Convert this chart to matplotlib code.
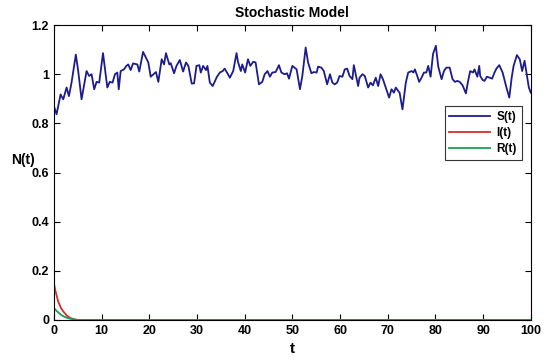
import matplotlib
matplotlib.use("Agg")
import matplotlib.pyplot as plt
from matplotlib.ticker import FuncFormatter

plt.rcParams['font.family'] = ['Liberation Sans', 'DejaVu Sans']
plt.rcParams['font.weight'] = 'bold'

# S(t) (t, value)
t_s = [0, 0.56, 1.4, 1.96, 2.66, 3.15, 3.7, 4.6, 5.1, 5.8, 6.85, 7.4, 7.9, 8.45, 8.95,
       9.5, 10.3, 11.2, 11.7, 12.3, 12.8, 13.3, 13.6, 14.0, 14.7, 15.2, 15.6, 16.1,
       16.6, 17.5, 17.9, 18.7, 19.8, 20.3, 21.4, 21.9, 22.6, 23.1, 23.5, 24.2, 24.5,
       25.2, 25.7, 26.4, 27.1, 27.7, 28.2, 28.9, 29.4, 29.9, 30.5, 30.8, 31.3, 31.9,
       32.2, 32.7, 33.3, 33.8, 34.2, 34.8, 35.4, 35.8, 36.3, 36.9, 37.6, 38.3, 38.6,
       39.2, 39.5, 40.1, 40.7, 41.2, 41.8, 42.3, 43.0, 43.7, 44.2, 44.8, 45.3, 45.8,
       46.5, 47.2, 47.7, 48.4, 48.9, 49.3, 50.0, 50.9, 51.6, 52.1, 52.8, 53.3, 54.0,
       54.5, 55.1, 55.4, 56.1, 56.6, 57.3, 57.9, 58.4, 58.9, 59.4, 59.9, 60.5, 61.0,
       61.5, 62.0, 62.6, 62.9, 63.8, 64.1, 64.7, 65.2, 65.9, 66.4, 66.9, 67.5, 68.0,
       68.5, 69.0, 69.7, 70.3, 70.8, 71.3, 71.7, 72.2, 72.5, 73.1, 73.8, 74.3, 75.0,
       75.4, 75.7, 76.2, 76.6, 77.1, 77.6, 78.1, 78.5, 79.0, 79.5, 80.1, 80.6, 81.3,
       81.8, 82.3, 83.0, 83.6, 84.1, 84.6, 85.1, 85.7, 86.4, 86.8, 87.3, 87.9, 88.2,
       88.8, 89.2, 89.4, 89.9, 90.3, 90.8, 91.4, 91.9, 92.4, 92.8, 93.4, 94.1, 94.9,
       95.5, 96.0, 96.4, 97.1, 97.7, 98.2, 98.7, 99.2, 99.6, 100]
s_vals = [0.87, 0.837, 0.918, 0.898, 0.946, 0.911, 0.966, 1.08, 1.013, 0.898, 1.013,
          0.993, 1.0, 0.939, 0.969, 0.966, 1.086, 0.946, 0.969, 0.966, 1.0, 1.007, 0.939,
          1.013, 1.02, 1.034, 1.04, 1.017, 1.044, 1.04, 1.011, 1.091, 1.048, 0.99, 1.009,
          0.969, 1.061, 1.04, 1.086, 1.04, 1.045, 1.004, 1.034, 1.058, 1.011, 1.048,
          1.034, 0.962, 0.963, 1.034, 1.037, 1.007, 1.034, 1.017, 1.034, 0.966, 0.952,
          0.973, 0.99, 1.007, 1.013, 1.023, 1.007, 0.986, 1.013, 1.086, 1.051, 1.013,
          1.04, 1.007, 1.061, 1.034, 1.051, 1.048, 0.959, 0.969, 1.0, 1.013, 0.99, 1.007,
          1.009, 1.037, 1.007, 1.0, 1.004, 0.982, 1.034, 1.02, 0.939, 0.993, 1.109, 1.048,
          1.004, 1.009, 1.007, 1.031, 1.027, 1.013, 0.959, 1.0, 0.966, 0.959, 0.966,
          0.993, 0.99, 1.02, 1.023, 0.993, 0.98, 1.037, 0.952, 0.986, 1.0, 0.993, 0.946,
          0.966, 0.955, 0.986, 0.952, 1.0, 0.98, 0.939, 0.905, 0.939, 0.925, 0.946, 0.932,
          0.925, 0.857, 0.966, 1.007, 1.013, 1.007, 1.02, 0.993, 0.969, 0.986, 1.007,
          1.007, 1.034, 0.99, 1.082, 1.116, 1.031, 0.98, 1.013, 1.027, 1.027, 0.98, 0.969,
          0.973, 0.969, 0.955, 0.922, 0.966, 1.013, 1.007, 1.02, 0.99, 1.034, 0.993,
          0.977, 0.973, 0.99, 0.986, 0.982, 1.007, 1.023, 1.037, 1.007, 0.946, 0.905,
          0.986, 1.034, 1.078, 1.061, 1.013, 1.055, 0.993, 0.946, 0.925]

# I(t) and R(t) decay quickly to zero
t_ir = [0, 0.3, 0.5, 0.9, 1.5, 2.0, 2.7, 3.4, 4.2, 5.0, 100]
i_vals = [0.15, 0.12, 0.105, 0.075, 0.048, 0.034, 0.018, 0.008, 0.003, 0.0, 0.0]
r_vals = [0.048, 0.043, 0.038, 0.031, 0.021, 0.015, 0.009, 0.005, 0.002, 0.0, 0.0]

fig = plt.figure(figsize=(5.5, 3.64), dpi=100)
ax = fig.add_axes([0.098, 0.121, 0.867, 0.81])

ax.plot(t_s, s_vals, color='#1c1c8c', lw=1.3, label='S(t)')
ax.plot(t_ir, i_vals, color='#d92c2c', lw=1.3, label='I(t)')
ax.plot(t_ir, r_vals, color='#1a9e55', lw=1.3, label='R(t)')

ax.set_xlim(0, 100)
ax.set_ylim(0, 1.2)
ax.set_xticks(range(0, 101, 10))
ax.set_yticks([0, 0.2, 0.4, 0.6, 0.8, 1.0, 1.2])
ax.yaxis.set_major_formatter(FuncFormatter(lambda v, p: '%g' % round(v, 1)))
ax.tick_params(direction='in', top=True, right=True, labelsize=9, length=4, width=0.8)
for lab in ax.get_xticklabels() + ax.get_yticklabels():
    lab.set_fontweight('bold')
for sp in ax.spines.values():
    sp.set_linewidth(0.8)

ax.set_title('Stochastic Model', fontsize=10, fontweight='bold', pad=6)
ax.set_xlabel('t', fontsize=11, fontweight='bold', labelpad=4)
ax.set_ylabel('N(t)', fontsize=10, fontweight='bold', rotation=0)
ax.yaxis.set_label_coords(-0.065, 0.52)

leg = ax.legend(loc='upper right', bbox_to_anchor=(0.981, 0.724), fontsize=8.5,
                frameon=True, fancybox=False, handlelength=3.4, borderpad=0.4,
                labelspacing=0.35, handletextpad=0.6, borderaxespad=0)
leg.get_frame().set_edgecolor('black')
leg.get_frame().set_linewidth(0.8)
for txt in leg.get_texts():
    txt.set_fontweight('bold')

plt.savefig('out.png', dpi=100)
